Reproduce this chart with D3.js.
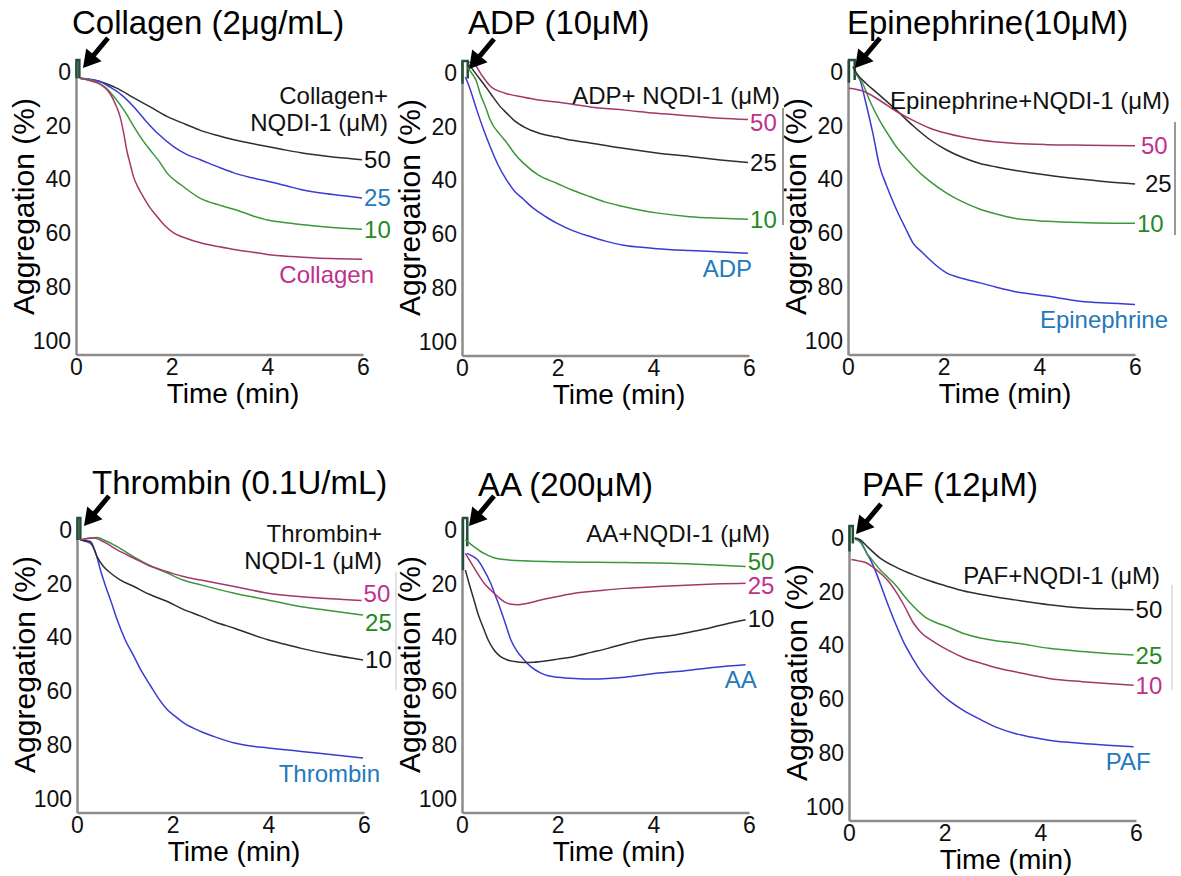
<!DOCTYPE html>
<html>
<head>
<meta charset="utf-8">
<script src="https://cdn.jsdelivr.net/npm/d3@7"></script>
<style>
  body { margin: 0; background: #fff; }
  svg text { font-family: 'Liberation Sans', Arial, sans-serif; }
</style>
</head>
<body>
<script>
const W = 1181, H = 876;

const TIME_TICKS = [0, 2, 4, 6];
const AGG_TICKS = [0, 20, 40, 60, 80, 100];

// [time (min), aggregation (%)]
const collagen50 = [[0.08,2.3],[0.5,3.5],[0.85,6],[1.2,9.5],[1.55,13],[1.9,16.5],[2.3,19.5],[2.6,21.7],[3.0,23.8],[3.3,25.2],[3.65,26.5],[4,27.7],[4.35,28.9],[4.7,30],[5.2,31.2],[5.6,32],[5.98,32.6]];
const collagen25 = [[0.08,2.3],[0.5,3.5],[0.7,5.5],[0.95,8.5],[1.2,12.8],[1.45,18],[1.7,22.7],[2.04,27.7],[2.3,30.5],[2.6,32.6],[3.0,35.5],[3.3,37.5],[3.65,39.2],[4,40.6],[4.4,42.3],[4.7,43.7],[5.2,45.2],[5.6,46],[5.98,46.8]];
const collagen10 = [[0.08,2.3],[0.4,3.5],[0.6,5.5],[0.85,10.4],[1.05,15.5],[1.2,20],[1.4,25.5],[1.55,29],[1.75,33.5],[1.9,37.5],[2.2,42],[2.6,47],[3.0,49.5],[3.3,51],[3.7,53.5],[4,55],[4.4,56],[4.7,56.7],[5.3,57.7],[5.98,58.5]];
const collagenOnly = [[0.08,2.3],[0.35,3.5],[0.5,4.5],[0.71,8],[0.85,13],[0.92,16.5],[1.0,23],[1.06,29],[1.13,34],[1.2,38.8],[1.3,43],[1.41,46.5],[1.55,50.5],[1.69,53.6],[1.85,57],[2.04,59.8],[2.3,61.8],[2.6,63.5],[3.0,65],[3.3,66],[3.7,67],[4,67.8],[4.5,68.6],[5,69.1],[5.5,69.4],[5.98,69.6]];
const collagenSpike = [[0.01,2.3],[0.01,-4.5],[0.07,-4.5],[0.07,2.3]];

const adp50 = [[0.15,-4],[0.25,-3.5],[0.4,0.5],[0.6,5],[0.9,7.5],[1.29,9],[1.6,10],[1.98,10.8],[2.3,11.6],[2.68,12.6],[3.4,13.8],[4.07,15],[4.8,16],[5.4,16.8],[5.98,17.3]];
const adp25 = [[0.15,-3],[0.3,0.5],[0.45,4],[0.6,7.7],[0.8,12.5],[0.94,15],[1.1,17.8],[1.29,20],[1.6,22.3],[1.98,23.8],[2.3,25],[2.68,26],[3.37,28],[4.07,29.7],[4.76,31],[5.4,32.3],[5.98,33.3]];
const adp10 = [[0.12,-2],[0.2,0],[0.3,3],[0.38,7.7],[0.5,13],[0.59,17.5],[0.8,23],[0.94,26],[1.1,30],[1.29,33.6],[1.6,38],[1.98,41],[2.3,43.5],[2.68,46],[3.0,48],[3.37,49.6],[4.07,52],[4.76,53.4],[5.4,54],[5.98,54.4]];
const adpOnly = [[0.07,1.5],[0.15,5],[0.31,13.8],[0.45,21],[0.59,27.4],[0.75,34],[0.94,40],[1.1,44],[1.29,47],[1.45,49.7],[1.63,52],[1.8,54],[1.98,55.8],[2.3,58.5],[2.68,60.8],[3.0,62.5],[3.37,64],[3.7,64.7],[4.07,65.3],[4.76,66],[5.4,66.5],[5.98,67]];
const adpSpike = [[0.01,4],[0.01,-4.5],[0.12,-4.5],[0.12,2]];

const epi50 = [[0.02,6],[0.3,7],[0.66,10.5],[1.0,14.5],[1.36,18],[1.7,20.8],[2.06,22.8],[2.4,24.2],[2.76,25.3],[3.45,26.5],[4.15,27],[5,27.2],[6,27.4]];
const epi25 = [[0.1,-2],[0.2,1],[0.38,4.3],[0.66,8.6],[1.0,14],[1.36,20],[1.7,25],[2.06,29],[2.4,31.8],[2.76,34],[3.1,35.3],[3.45,36.4],[4.15,38.3],[4.85,39.8],[5.4,40.8],[6,41.6]];
const epi10 = [[0.15,0.5],[0.3,4],[0.45,10.5],[0.66,18],[0.85,23.5],[1.01,27.8],[1.2,31.8],[1.36,35],[1.7,40.5],[2.06,45],[2.4,48.3],[2.76,51],[3.1,52.8],[3.45,54.3],[4.15,55.5],[5,56],[6,56.2]];
const epiOnly = [[0.15,0],[0.25,3],[0.38,12],[0.52,22.8],[0.66,35],[0.8,42],[1.01,51],[1.2,58],[1.36,63.6],[1.55,67],[1.71,69.8],[2.06,74.7],[2.4,76.8],[2.76,78.4],[3.1,80],[3.45,81.5],[4.15,83.3],[4.85,85.2],[5.4,85.9],[6,86.4]];
const epiSpike = [[0.02,4],[0.02,-4.5],[0.14,-4.5],[0.14,3]];

const thr50 = [[0.07,3.7],[0.35,3],[0.6,4.8],[0.84,7.4],[1.19,10.5],[1.5,13.2],[1.89,15.5],[2.2,17.2],[2.59,18.6],[3.29,21],[3.99,23.5],[4.69,24.8],[5.3,25.6],[5.95,26.2]];
const thr25 = [[0.07,3.7],[0.25,3],[0.42,2.8],[0.6,4],[0.84,6.2],[1.19,10],[1.5,13],[1.89,16],[2.2,18.5],[2.59,20.4],[3.29,23.5],[3.99,26],[4.69,28.5],[5.3,30],[5.98,31.6]];
const thr10 = [[0.07,3.7],[0.28,4.3],[0.42,10],[0.55,13.5],[0.7,16],[0.9,18.5],[1.19,21],[1.5,23.8],[1.89,26.6],[2.2,29.3],[2.59,32],[2.9,34.3],[3.29,36.5],[3.6,38.5],[3.99,40.8],[4.35,42.5],[4.69,44],[5.3,46.3],[5.98,48.3]];
const thrOnly = [[0.07,3.7],[0.28,5],[0.4,9],[0.49,14.9],[0.6,21],[0.72,27],[0.84,33.4],[1.0,40.5],[1.19,47],[1.35,52.5],[1.54,58],[1.7,62.5],[1.89,66.8],[2.05,69.2],[2.24,71.8],[2.59,74.9],[2.9,77],[3.29,79.2],[3.6,80.2],[3.99,81],[4.35,81.7],[4.69,82.3],[5.3,83.5],[5.98,84.8]];
const thrSpike = [[0.01,3.7],[0.01,-4.5],[0.07,-4.5],[0.07,3.7]];

const aa50 = [[0.07,3.7],[0.2,5.5],[0.46,8.7],[0.65,10.2],[0.88,11],[1.4,11.5],[2,11.8],[3.4,12.1],[4.8,12.6],[5.4,13.1],[5.93,13.6]];
const aa25 = [[0.07,8.7],[0.2,12.5],[0.32,16],[0.45,19.5],[0.6,22.3],[0.75,24.8],[0.88,26.6],[1.0,27.5],[1.16,27.8],[1.35,27.3],[1.65,26],[2.0,24.7],[2.35,23.5],[2.9,22.5],[3.4,21.7],[4.1,21],[4.8,20.4],[5.4,20],[5.93,19.8]];
const aa10 = [[0.07,14.9],[0.15,20],[0.25,26],[0.35,32],[0.46,37],[0.55,41],[0.67,44.6],[0.8,47],[0.95,48.3],[1.1,48.9],[1.3,49.3],[1.5,49.2],[1.65,48.9],[2.0,48],[2.35,47],[2.7,45.5],[3.05,44],[3.4,42.3],[3.75,40.8],[4.1,39.8],[4.46,39],[4.8,37.8],[5.16,36.5],[5.5,35],[5.93,33.4]];
const aaOnly = [[0.1,8.7],[0.2,9.5],[0.32,11],[0.45,14.5],[0.6,19.8],[0.7,24.5],[0.81,29.7],[0.92,35.5],[1.02,40.8],[1.15,45],[1.3,48.3],[1.45,51],[1.65,53.2],[1.8,54.2],[2.0,54.7],[2.35,55.2],[2.7,55.4],[3.05,55.2],[3.4,54.7],[3.75,54],[4.1,53.2],[4.5,52.6],[4.8,52],[5.3,51],[5.93,50.1]];
const aaSpike = [[0.02,15],[0.02,-4.5],[0.11,-4.5],[0.11,6]];

const paf50 = [[0.12,0],[0.23,0.6],[0.4,3.5],[0.65,7.5],[1.0,11],[1.35,13.7],[1.7,16],[2.06,18],[2.4,19.7],[2.77,21],[3.1,22],[3.47,23],[4.18,24.8],[4.88,26],[5.4,26.4],[5.95,26.7]];
const paf25 = [[0.12,0.5],[0.23,1.5],[0.37,5.6],[0.5,8.5],[0.65,11.8],[0.82,14.8],[1.0,18],[1.15,21.5],[1.35,25.5],[1.6,29.5],[1.8,31.3],[2.06,33],[2.4,35.5],[2.77,37.3],[3.1,38.3],[3.47,39],[4.18,41],[4.88,42.2],[5.4,42.9],[5.95,43.5]];
const paf10 = [[0.05,8],[0.2,8.5],[0.37,9.3],[0.5,10.8],[0.65,13],[0.82,16],[1.0,20.5],[1.15,25],[1.35,31.7],[1.5,35],[1.71,37.9],[1.9,40],[2.06,41.6],[2.4,44.5],[2.77,46.6],[3.1,48.3],[3.47,49.7],[4.18,52.2],[4.88,53.4],[5.4,54.1],[5.95,54.7]];
const pafOnly = [[0.12,0],[0.23,1],[0.37,5.6],[0.5,10],[0.65,16.8],[0.82,25],[1.0,33],[1.15,39],[1.35,45.3],[1.5,49.5],[1.71,54],[1.9,57.5],[2.06,60],[2.4,64.2],[2.77,67.7],[3.1,70.5],[3.47,72.7],[3.8,74],[4.18,75.2],[4.88,76.4],[5.4,77],[5.95,77.6]];
const pafSpike = [[0.01,5],[0.01,-4.5],[0.08,-4.5],[0.08,2]];

const CURVE_COLOR = { black: '#2e2e2e', blue: '#3b3bd2', green: '#3b973b', magenta: '#a3386c' };
const LABEL_COLOR = { black: '#111111', blue: '#2379bb', green: '#1f8a22', magenta: '#c0308c' };
const SPIKE_COLOR = '#24503a';
const AXIS_COLOR = '#8c8c8c';

// layout of the six panels
const panels = [
	{ ox: 76, oy: 72, title: 'Collagen (2μg/mL)', titleDx: -4, titleY: 34,
		header: ['Collagen+', 'NQDI-1 (μM)'], headerDx: 312, headerDy: 23, nameDx: 12, spike: collagenSpike,
		series: [
			{ data: collagen50, color: 'black', label: '50' },
			{ data: collagen25, color: 'blue', label: '25' },
			{ data: collagen10, color: 'green', label: '10' },
			{ data: collagenOnly, color: 'magenta', label: 'Collagen', name: true }] },
	{ ox: 462, oy: 73, title: 'ADP (10μM)', titleDx: 6, titleY: 34,
		header: ['ADP+ NQDI-1 (μM)'], headerDx: 318, headerDy: 22, nameDx: 4, spike: adpSpike,
		series: [
			{ data: adpOnly, color: 'blue', label: 'ADP', name: true },
			{ data: adp10, color: 'green', label: '10' },
			{ data: adp25, color: 'black', label: '25' },
			{ data: adp50, color: 'magenta', label: '50', dy: 3 }] },
	{ ox: 848, oy: 72, title: 'Epinephrine(10μM)', titleDx: -1, titleY: 34,
		header: ['Epinephrine+NQDI-1 (μM)'], headerDx: 322, headerDy: 28, nameDx: 33, spike: epiSpike,
		series: [
			{ data: epiOnly, color: 'blue', label: 'Epinephrine', name: true },
			{ data: epi10, color: 'green', label: '10' },
			{ data: epi25, color: 'black', label: '25', dx: 8 },
			{ data: epi50, color: 'magenta', label: '50', dx: 4 }] },
	{ ox: 77, oy: 530, title: 'Thrombin (0.1U/mL)', titleDx: 15, titleY: 494,
		header: ['Thrombin+', 'NQDI-1 (μM)'], headerDx: 305, headerDy: 3, nameDx: 17, spike: thrSpike,
		series: [
			{ data: thrOnly, color: 'blue', label: 'Thrombin', name: true },
			{ data: thr10, color: 'black', label: '10' },
			{ data: thr25, color: 'green', label: '25', dy: 7 },
			{ data: thr50, color: 'magenta', label: '50', dy: -7 }] },
	{ ox: 462, oy: 530, title: 'AA (200μM)', titleDx: 16, titleY: 496,
		header: ['AA+NQDI-1 (μM)'], headerDx: 308, headerDy: 3, nameDx: 11, spike: aaSpike,
		series: [
			{ data: aaOnly, color: 'blue', label: 'AA', name: true },
			{ data: aa10, color: 'black', label: '10', dy: -1 },
			{ data: aa25, color: 'magenta', label: '25', dy: 2 },
			{ data: aa50, color: 'green', label: '50', dy: -5 }] },
	{ ox: 849, oy: 538, title: 'PAF (12μM)', titleDx: 13, titleY: 496,
		header: ['PAF+NQDI-1 (μM)'], headerDx: 311, headerDy: 37, nameDx: 17, spike: pafSpike,
		series: [
			{ data: pafOnly, color: 'blue', label: 'PAF', name: true },
			{ data: paf10, color: 'magenta', label: '10' },
			{ data: paf25, color: 'green', label: '25' },
			{ data: paf50, color: 'black', label: '50' }] }
];

const PLOT_W = 287;
const PX_PER_UNIT = 2.69;
const FONT = "'Liberation Sans', Arial, sans-serif";

const svg = d3.select('body').append('svg')
	.attr('width', W)
	.attr('height', H);

// stray edge lines from the neighbouring panels in the source figure
[[783, 108, 225, '#777'], [1175, 122, 235, '#777'], [396, 572, 690, '#d8d8d8'], [1172, 585, 690, '#d8d8d8']]
	.forEach(([x, y1, y2, c]) => {
		svg.append('line').attr('x1', x).attr('x2', x).attr('y1', y1).attr('y2', y2)
			.attr('stroke', c).attr('stroke-width', 1.5);
	});

panels.forEach(drawPanel);

function drawPanel(p) {
	const g = svg.append('g');
	const x = d3.scaleLinear().domain([0, 6]).range([p.ox, p.ox + PLOT_W]);
	const y = d3.scaleLinear().domain([-4.5, 105])
		.range([p.oy - 4.5 * PX_PER_UNIT, p.oy + 105 * PX_PER_UNIT]);

	// axes
	const yAxis = g.append('g')
		.attr('transform', `translate(${p.ox},0)`)
		.call(d3.axisLeft(y).tickValues(AGG_TICKS).tickFormat(d3.format('d')).tickSize(0).tickPadding(5));
	const xAxis = g.append('g')
		.attr('transform', `translate(0,${y(105)})`)
		.call(d3.axisBottom(x).tickValues(TIME_TICKS).tickFormat(d3.format('d')).tickSize(0).tickPadding(4));
	[yAxis, xAxis].forEach(a => {
		a.select('.domain').attr('stroke', AXIS_COLOR).attr('stroke-width', 2.5);
		a.selectAll('text').attr('font-size', 23).attr('fill', '#111')
			.style('font-family', FONT);
	});

	g.append('text')
		.attr('transform', `translate(${p.ox - 53},${y(50)}) rotate(-90)`)
		.attr('text-anchor', 'middle')
		.attr('dominant-baseline', 'central')
		.attr('font-size', 30)
		.text('Aggregation (%)');

	g.append('text')
		.attr('x', p.ox + 157)
		.attr('y', y(105) + 49)
		.attr('text-anchor', 'middle')
		.attr('font-size', 28)
		.text('Time (min)');

	g.append('text')
		.attr('x', p.ox + p.titleDx)
		.attr('y', p.titleY)
		.attr('font-size', 33)
		.text(p.title);

	// traces
	const line = d3.line()
		.x(d => x(d[0]))
		.y(d => y(d[1]))
		.curve(d3.curveMonotoneX);

	g.append('path')
		.attr('d', d3.line().x(d => x(d[0])).y(d => y(d[1]))(p.spike))
		.attr('fill', 'none')
		.attr('stroke', SPIKE_COLOR)
		.attr('stroke-width', 2.5);

	g.selectAll('path.trace')
		.data(p.series)
		.enter()
		.append('path')
		.attr('class', 'trace')
		.attr('d', d => line(d.data))
		.attr('fill', 'none')
		.attr('stroke', d => CURVE_COLOR[d.color])
		.attr('stroke-width', 1.5);

	// end labels
	g.selectAll('text.endlabel')
		.data(p.series)
		.enter()
		.append('text')
		.attr('class', 'endlabel')
		.attr('x', d => {
			const last = d.data[d.data.length - 1];
			return d.name ? x(last[0]) + p.nameDx : x(last[0]) + 2 + (d.dx || 0);
		})
		.attr('y', d => {
			const last = d.data[d.data.length - 1];
			return d.name ? y(last[1]) + 15 : y(last[1]) + (d.dy || 0);
		})
		.attr('text-anchor', d => d.name ? 'end' : 'start')
		.attr('dominant-baseline', 'central')
		.attr('font-size', 24)
		.attr('fill', d => LABEL_COLOR[d.color])
		.text(d => d.label);

	// header of the inhibitor series
	g.selectAll('text.header')
		.data(p.header)
		.enter()
		.append('text')
		.attr('class', 'header')
		.attr('x', p.ox + p.headerDx)
		.attr('y', (d, i) => p.oy + p.headerDy + i * 27)
		.attr('text-anchor', 'end')
		.attr('dominant-baseline', 'central')
		.attr('font-size', 24)
		.attr('fill', '#111')
		.text(d => d);

	drawArrow(g, p.ox + 32, p.oy - 34, p.ox + 7, p.oy - 4);
}

function drawArrow(g, x1, y1, x2, y2) {
	const ang = Math.atan2(y2 - y1, x2 - x1);
	const headLen = 17, headHalf = 10;
	const bx = x2 - headLen * Math.cos(ang);
	const by = y2 - headLen * Math.sin(ang);
	g.append('line')
		.attr('x1', x1).attr('y1', y1)
		.attr('x2', bx + 3 * Math.cos(ang)).attr('y2', by + 3 * Math.sin(ang))
		.attr('stroke', '#000')
		.attr('stroke-width', 5);
	const px = -Math.sin(ang), py = Math.cos(ang);
	g.append('path')
		.attr('d', `M${x2},${y2} L${bx + headHalf * px},${by + headHalf * py} L${bx - headHalf * px},${by - headHalf * py} Z`)
		.attr('fill', '#000');
}
</script>
</body>
</html>
